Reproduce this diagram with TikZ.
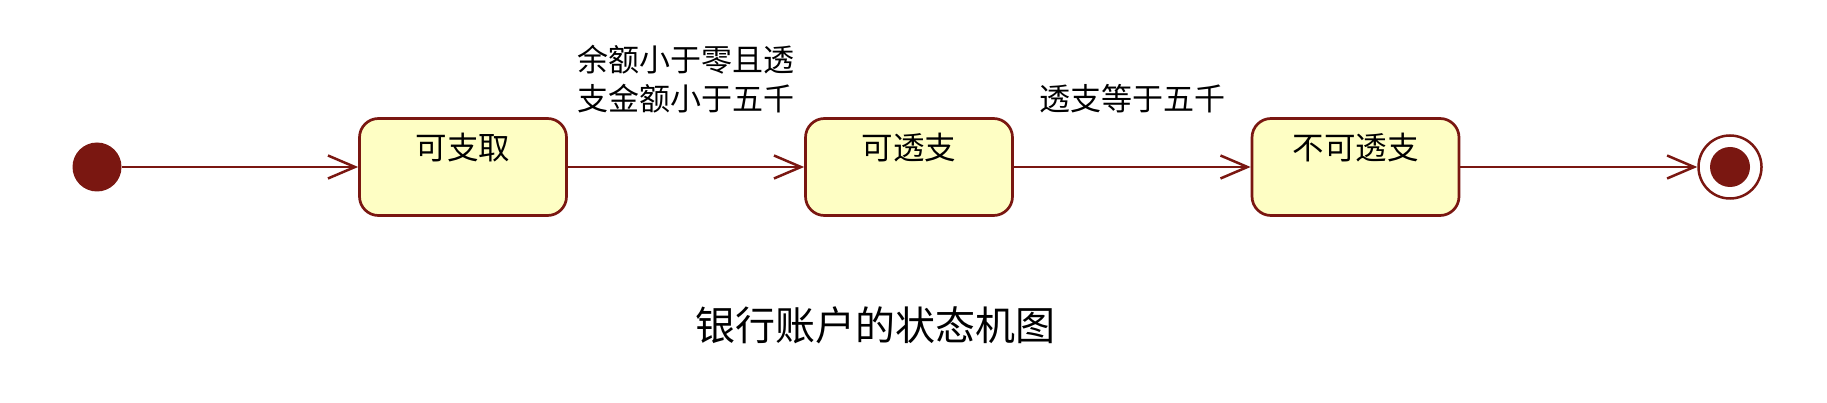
\documentclass[tikz,border=0pt]{standalone}
\usepackage{fontspec}
\setmainfont{Noto Sans CJK SC}
\usetikzlibrary{arrows.meta}
\usetikzlibrary{positioning}
\definecolor{dunkelrot}{RGB}{122,23,17}
\definecolor{hellgelb}{RGB}{254,254,196}

\begin{document}
\begin{tikzpicture}[x=1pt, y=-1pt, % Pixelmaße, y nach unten
    zustand/.style={draw=dunkelrot, fill=hellgelb, line width=2.7pt, rounded corners=19pt,
        minimum width=207pt, minimum height=97pt, inner sep=0pt,
        font=\fontsize{31.5pt}{39pt}\selectfont, text height=27pt, text depth=41pt},
    pfeil/.style={draw=dunkelrot, line width=2.5pt, -{Straight Barb[length=27pt, width=23pt]}},
    bedingung/.style={inner sep=0pt, align=center, font=\fontsize{31pt}{39pt}\selectfont}]

    \useasboundingbox (0,0) rectangle (1827,403);

    % Anfangs- und Endzustand
    \node[circle, fill=dunkelrot, minimum size=49pt, inner sep=0pt] (anfang) at (97,167) {};
    \node[circle, draw=dunkelrot, line width=2.5pt, minimum size=63pt, inner sep=0pt] (ende) at (1730,167) {};
    \node[circle, fill=dunkelrot, minimum size=40pt, inner sep=0pt] (endpunkt) at (ende) {};

    % Zustände
    \foreach \zname/\zx/\ztext in {abheben/463/可支取, ueberziehen/909/可透支, gesperrt/1355.5/不可透支} {
        \node[zustand] (\zname) at (\zx,167) {\ztext};
    }

    % Übergänge mit Bedingungen
    \draw[pfeil] (anfang) -- (abheben);
    \draw[pfeil] (abheben) -- node[bedingung, above=53pt] (bed1) {余额小于零且透\\支金额小于五千} (ueberziehen);
    \draw[pfeil] (ueberziehen) -- node[bedingung, above=53pt] (bed2) {透支等于五千} (gesperrt);
    \draw[pfeil] (gesperrt) -- (ende);

    % Titel
    \node[font=\fontsize{40pt}{48pt}\selectfont] (titel) at (875,325) {银行账户的状态机图};
\end{tikzpicture}
\end{document}
